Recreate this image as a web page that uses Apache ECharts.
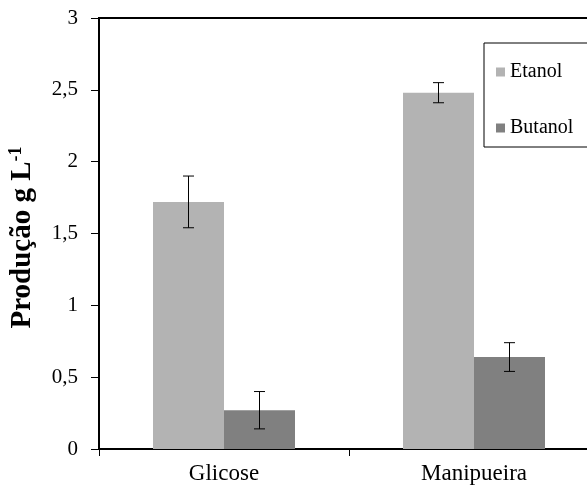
<!DOCTYPE html>
<html>
<head>
<meta charset="utf-8">
<script src="https://cdn.jsdelivr.net/npm/echarts@6/dist/echarts.min.js"></script>
<style>
  html, body { margin: 0; padding: 0; background: #fff; }
  #chart { width: 587px; height: 488px; }
</style>
</head>
<body>
<div id="chart"></div>
<script>
// dados
var categorias = ['Glicose', 'Manipueira'];
var etanol = [1.72, 2.48];
var etanolErro = [0.18, 0.07];
var butanol = [0.27, 0.64];
var butanolErro = [0.13, 0.10];
var yTicks = [0, 0.5, 1, 1.5, 2, 2.5, 3];

var serif = '"Liberation Serif", "DejaVu Serif", serif';
var larguraBarra = 71;

// barras de erro desenhadas com série custom
function erroSerie(valores, erros, lado) {
  var dados = valores.map(function (v, i) { return [i, v, erros[i]]; });
  return {
    type: 'custom',
    silent: true,
    z: 10,
    data: dados,
    renderItem: function (params, api) {
      var i = api.value(0), v = api.value(1), e = api.value(2);
      var topo = api.coord([i, v + e]);
      var base = api.coord([i, v - e]);
      var x = topo[0] + lado * larguraBarra / 2;
      var cap = 5.5;
      var estilo = { stroke: '#000', lineWidth: 1 };
      return {
        type: 'group',
        children: [
          { type: 'line', shape: { x1: x, y1: topo[1], x2: x, y2: base[1] }, style: estilo },
          { type: 'line', shape: { x1: x - cap, y1: topo[1], x2: x + cap, y2: topo[1] }, style: estilo },
          { type: 'line', shape: { x1: x - cap, y1: base[1], x2: x + cap, y2: base[1] }, style: estilo }
        ]
      };
    }
  };
}

var myChart = echarts.init(document.getElementById('chart'));
myChart.setOption({
  animation: false,
  backgroundColor: '#fff',
  grid: {
    left: 99, top: 18, width: 500, bottom: 39,
    outerBoundsMode: 'none',
    containLabel: false,
    show: true, borderColor: '#000', borderWidth: 2
  },
  legend: {
    orient: 'vertical',
    left: 484, top: 43,
    padding: [19, 30, 9, 12],
    itemGap: 36,
    itemWidth: 9, itemHeight: 9,
    icon: 'rect',
    borderColor: '#000', borderWidth: 1,
    textStyle: { fontFamily: serif, fontSize: 20, lineHeight: 20, color: '#000' },
    data: ['Etanol', 'Butanol']
  },
  xAxis: {
    type: 'category',
    data: categorias,
    axisLine: { lineStyle: { color: '#000', width: 1.5 } },
    axisTick: { show: true, length: 7, lineStyle: { color: '#000' } },
    axisLabel: { fontFamily: serif, fontSize: 23, color: '#000', margin: 13 }
  },
  yAxis: {
    type: 'value',
    min: yTicks[0], max: yTicks[yTicks.length - 1], interval: 0.5,
    name: '{a|Produção g L}{s|-1}',
    nameLocation: 'middle',
    nameGap: 60,
    nameRotate: 90,
    nameTextStyle: {
      padding: [0, 0, 0, -8],
      rich: {
        a: { fontFamily: serif, fontSize: 29, fontWeight: 'bold', color: '#000' },
        s: { fontFamily: serif, fontSize: 18, fontWeight: 'bold', color: '#000', verticalAlign: 'top', padding: [0, 0, 14, 0] }
      }
    },
    axisLine: { show: true, lineStyle: { color: '#000', width: 2 } },
    axisTick: { show: true, length: 8, lineStyle: { color: '#000' } },
    splitLine: { show: false },
    axisLabel: {
      fontFamily: serif, fontSize: 21, color: '#000', margin: 21,
      formatter: function (v) { return String(v).replace('.', ','); }
    }
  },
  series: [
    { name: 'Etanol', type: 'bar', data: etanol, barWidth: larguraBarra, barGap: '0%',
      itemStyle: { color: '#b3b3b3' } },
    { name: 'Butanol', type: 'bar', data: butanol, barWidth: larguraBarra,
      itemStyle: { color: '#808080' } },
    erroSerie(etanol, etanolErro, -1),
    erroSerie(butanol, butanolErro, 1)
  ]
});
</script>
</body>
</html>
